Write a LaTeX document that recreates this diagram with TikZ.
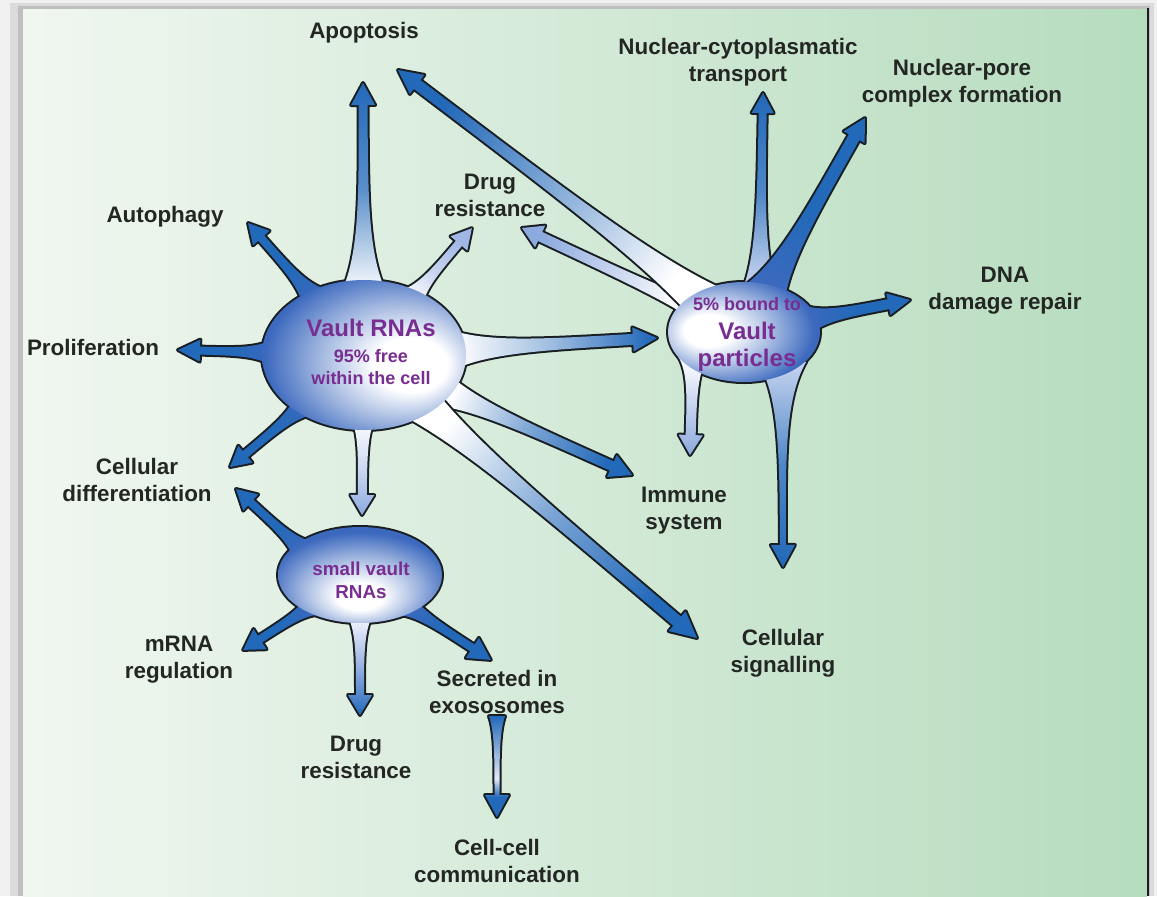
\documentclass[tikz,border=0pt]{standalone}
\usepackage{fontspec}
\setmainfont{Liberation Sans}
\usetikzlibrary{calc}

\definecolor{sblue}{RGB}{35,105,185}
\definecolor{ebl}{RGB}{60,105,190}
\definecolor{pale}{RGB}{160,182,228}
\definecolor{txt}{RGB}{35,38,35}
\definecolor{purp}{RGB}{120,45,145}
\definecolor{panelL}{RGB}{240,247,240}
\definecolor{panelR}{RGB}{182,220,190}
\definecolor{outl}{RGB}{25,30,35}

% ellipse fills
\pgfdeclareradialshading{vrshade}{\pgfpoint{14bp}{-4bp}}{color(0bp)=(white); color(9bp)=(white); color(20bp)=(ebl!50!white); color(30bp)=(ebl); color(50bp)=(ebl)}
\pgfdeclareradialshading{vpshade}{\pgfpoint{-14bp}{1bp}}{color(0bp)=(white); color(8bp)=(white); color(19bp)=(ebl!50!white); color(29bp)=(ebl); color(50bp)=(ebl)}
\pgfdeclareradialshading{svshade}{\pgfpoint{0bp}{-13bp}}{color(0bp)=(white); color(7bp)=(white); color(18bp)=(ebl!50!white); color(28bp)=(ebl); color(50bp)=(ebl)}
\pgfdeclareverticalshading{exoshade}{100bp}{color(0bp)=(sblue); color(25bp)=(sblue); color(35bp)=(sblue); color(44bp)=(pale!30!white); color(75bp)=(sblue); color(100bp)=(sblue)}

\tikzset{
  lbl/.style={align=center, text=txt, inner sep=1pt,
    font=\bfseries\fontsize{11.2}{13.5}\selectfont},
  intxt/.style={align=center, text=purp, inner sep=0pt},
  spikeline/.style={preaction={draw=outl, line width=2pt, line join=round}},
  spk/.style n args={3}{left color=#1, right color=#3, middle color=#2},
  rim/.style={draw=outl, line width=2pt}
}

% tapered arrow: from, to, start offset, base half width, neck half width, head half width, head length, colours
\newcommand\spike[8]{%
  \path (#1) coordinate (spA) (#2) coordinate (spB);
  \pgfpointdiff{\pgfpointanchor{spA}{center}}{\pgfpointanchor{spB}{center}}%
  \pgfgetlastxy{\spdx}{\spdy}%
  \pgfmathsetmacro\spang{atan2(\spdy,\spdx)}%
  \pgfmathsetmacro\splen{2*veclen(\spdx,\spdy)}%
  \pgfmathsetmacro\spneck{\splen-#7}%
  \pgfmathsetmacro\spca{#3+0.2*(\spneck-#3)}%
  \pgfmathsetmacro\spcb{#3+0.5*(\spneck-#3)}%
  \pgfmathsetmacro\spshade{\spang+90}%
  \begin{scope}[shift={(spA)}, rotate=\spang, x=0.5pt, y=0.5pt]
    \shade[spikeline, #8, shading angle=\spshade]
      (#3,#4) .. controls (\spca,#5) and (\spcb,#5) .. (\spneck,#5)
      -- (\spneck,#6) -- (\splen,0) -- (\spneck,-#6) -- (\spneck,-#5)
      .. controls (\spcb,-#5) and (\spca,-#5) .. (#3,-#4) -- cycle;
  \end{scope}}

\begin{document}
\begin{tikzpicture}[x=0.5pt, y=-0.5pt]
  \useasboundingbox (0,0) rectangle (1157,896);

  % --- panel ---
  \fill[gray!12] (0,0) rectangle (1157,896);
  \fill[gray!28] (10,3) rectangle (1154,896);
  \fill[gray!50] (18,6) rectangle (1150,896);
  \shade[left color=panelL, right color=panelR] (23,9) rectangle (1147,896);
  \draw[outl, line width=1.2pt] (1148,8) -- (1148,896);

  % --- labels ---
  \node[lbl] (apo) at (364,33) {Apoptosis};
  \node[lbl] (nct) at (738,62) {Nuclear-cytoplasmatic\\transport};
  \node[lbl] (npc) at (962,83) {Nuclear-pore\\complex formation};
  \node[lbl] (aut) at (165,217) {Autophagy};
  \node[lbl] (drugT) at (490,195) {Drug\\resistance};
  \node[lbl] (pro) at (93,347) {Proliferation};
  \node[lbl] (dna) at (1005,291) {DNA\\damage repair};
  \node[lbl] (cdiff) at (137,480) {Cellular\\differentiation};
  \node[lbl] (imm) at (684,511) {Immune\\system};
  \node[lbl] (csig) at (783,653) {Cellular\\signalling};
  \node[lbl] (mrna) at (179,660) {mRNA\\regulation};
  \node[lbl] (drugB) at (356,757) {Drug\\resistance};
  \node[lbl] (sec) at (497,692) {Secreted in\\exososomes};
  \node[lbl] (cc) at (497,861) {Cell-cell\\communication};

  % --- ellipse centres and arrow tips ---
  \coordinate (vrc) at (364,355);
  \coordinate (vpc) at (744,332);
  \coordinate (svc) at (360,575);

  \coordinate (apoTipM) at (363,83);
  \coordinate (autTip) at (248,223);
  \coordinate (drugTipM) at (472,228);
  \coordinate (proTip) at (178,350);
  \coordinate (vpTip) at (657,338);
  \coordinate (cdTipM) at (230,467);
  \coordinate (svTip) at (362,515);
  \coordinate (imTipM) at (632,475);
  \coordinate (csTipM) at (697,638);
  \coordinate (apoTipV) at (398,70);
  \coordinate (drugTipV) at (522,228);
  \coordinate (nctTip) at (763,93);
  \coordinate (npcTip) at (865,118);
  \coordinate (dnaTip) at (910,300);
  \coordinate (imTipV) at (690,455);
  \coordinate (csTipV) at (783,567);
  \coordinate (cdTipS) at (236,489);
  \coordinate (mrTip) at (243,650);
  \coordinate (drTip) at (360,715);
  \coordinate (secTip) at (491,660);
  \coordinate (ccTip) at (497,817);

  % --- ellipse rims (under the arrows) ---
  \draw[rim] (vrc) ellipse [x radius=51pt, y radius=37.5pt];
  \draw[rim] (vpc) ellipse [x radius=38pt, y radius=25pt];
  \draw[rim] (svc) ellipse [x radius=41pt, y radius=24pt];

  % --- arrows of Vault RNAs ---
  \spike{vrc}{apoTipM}{60}{24}{4.5}{12}{22}{spk={white}{sblue!75!white}{sblue}}
  \spike{vrc}{autTip}{70}{18}{4}{11}{20}{spk={ebl}{sblue}{sblue}}
  \spike{vrc}{drugTipM}{70}{16}{4}{11}{20}{spk={white}{pale!60!white}{pale}}
  \spike{vrc}{proTip}{88}{16}{4}{11}{22}{spk={ebl}{sblue}{sblue}}
  \spike{vrc}{vpTip}{88}{20}{5.5}{12}{24}{spk={white}{sblue!45!white}{sblue}}
  \spike{vrc}{cdTipM}{73}{16}{4}{11}{20}{spk={ebl}{sblue}{sblue}}
  \spike{vrc}{svTip}{62}{13}{4.5}{12}{20}{spk={white}{pale!50!white}{pale!85!sblue}}
  \spike{vrc}{imTipM}{82}{18}{5}{12}{22}{spk={white}{sblue!60!white}{sblue}}
  \spike{vrc}{csTipM}{73}{20}{6}{13}{26}{spk={white}{sblue!60!white}{sblue}}

  % --- arrows of Vault particles ---
  \spike{vpc}{drugTipV}{55}{10}{5}{12}{20}{spk={white}{pale!60!white}{pale!85!sblue}}
  \spike{vpc}{apoTipV}{50}{20}{5.5}{12}{24}{spk={white}{sblue!55!white}{sblue}}
  \spike{$(vpc)+(15,0)$}{nctTip}{40}{18}{4}{11}{20}{spk={pale!50!white}{sblue!80!white}{sblue}}
  \spike{vpc}{npcTip}{42}{22}{6}{12}{22}{spk={ebl}{sblue}{sblue}}
  \spike{vpc}{dnaTip}{62}{16}{5}{11}{22}{spk={ebl}{sblue}{sblue}}
  \spike{$(vpc)+(-50,0)$}{imTipV}{25}{15}{5}{12}{20}{spk={white}{pale!60!white}{pale!85!sblue}}
  \spike{$(vpc)+(38,0)$}{csTipV}{30}{24}{3}{12}{22}{spk={pale!60!white}{sblue!80!white}{sblue}}

  % --- arrows of small vault RNAs ---
  \spike{$(svc)+(-25,5)$}{cdTipS}{40}{15}{4}{11}{20}{spk={ebl}{sblue}{sblue}}
  \spike{svc}{mrTip}{53}{13}{4}{12}{20}{spk={ebl}{sblue}{sblue}}
  \spike{svc}{drTip}{36}{15}{4}{12}{20}{spk={white}{pale}{sblue}}
  \spike{svc}{secTip}{53}{13}{4}{12}{22}{spk={ebl}{sblue}{sblue}}
  \spike{sec.south}{ccTip}{0}{8}{2.5}{12}{22}{shading=exoshade}

  % --- ellipse bodies ---
  \shade[shading=vrshade] (vrc) ellipse [x radius=51pt, y radius=37.5pt];
  \shade[shading=vpshade] (vpc) ellipse [x radius=38pt, y radius=25pt];
  \shade[shading=svshade] (svc) ellipse [x radius=41pt, y radius=24pt];

  \node[intxt, font=\bfseries\fontsize{9}{11}\selectfont] (vr) at (371,352)
    {{\fontsize{12}{14}\selectfont Vault RNAs}\\[2pt]95\% free\\within the cell};
  \node[intxt, font=\bfseries\fontsize{12}{13.5}\selectfont] (vp) at (747,334)
    {{\fontsize{9}{10}\selectfont 5\% bound to}\\[1pt]Vault\\particles};
  \node[intxt, font=\bfseries\fontsize{9.4}{11.5}\selectfont] (sv) at (361,580)
    {small vault\\RNAs};
\end{tikzpicture}
\end{document}
